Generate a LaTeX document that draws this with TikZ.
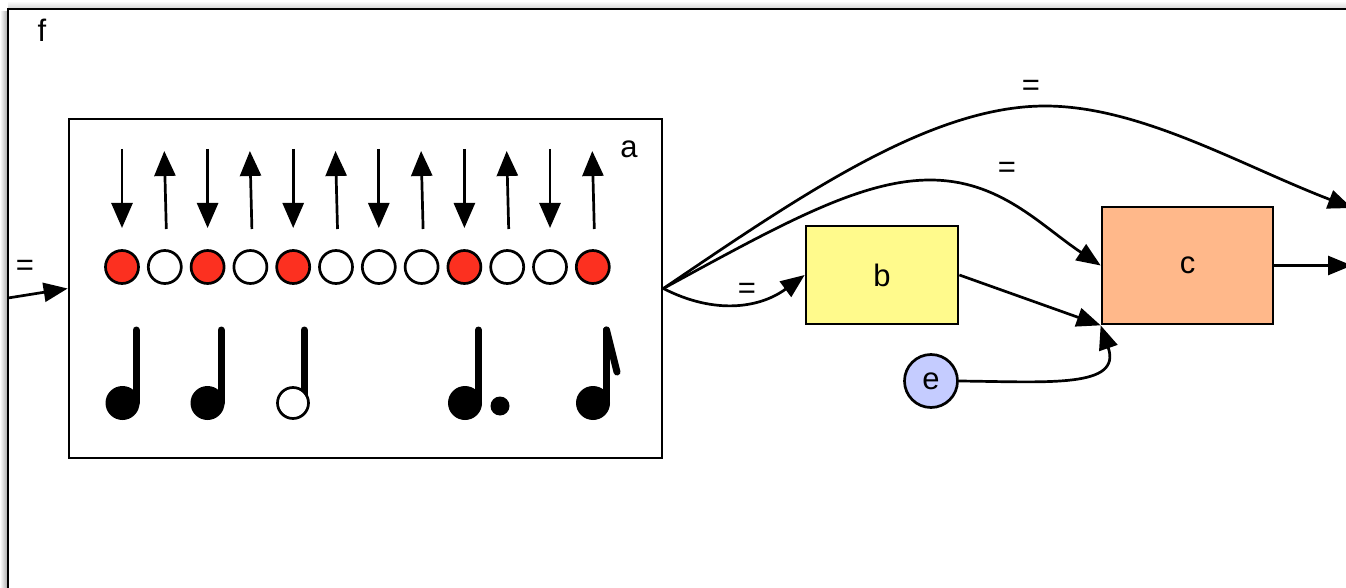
\documentclass[tikz,border=0pt]{standalone}
\usepackage{fontspec}
\setmainfont{Liberation Sans}
\usetikzlibrary{arrows.meta,shapes.geometric}
\definecolor{notered}{RGB}{252,48,32}
\definecolor{byellow}{RGB}{255,250,140}
\definecolor{corange}{RGB}{255,184,138}
\definecolor{eblue}{RGB}{197,204,255}
\begin{document}
\begin{tikzpicture}[x=1pt,y=-1pt,
  lw/.style={line width=2.7pt},
  conn/.style={line width=2.7pt, -{Triangle[length=24pt,width=19pt]}},
  beat/.style={line width=2.7pt, -{Triangle[length=25pt,width=21pt]}},
  stem/.style={line width=7pt, line cap=round},
  txt/.style={font=\fontsize{31}{33}\selectfont, inner sep=0pt},
  pulse/.style={circle, draw, line width=2.7pt, minimum size=33pt, inner sep=0pt},
  box/.style={draw, line width=2.7pt, inner sep=0pt, font=\fontsize{31}{33}\selectfont}]
\useasboundingbox (0,0) rectangle (1346,588);
% frame f with shadow
\shade[left color=white, right color=gray!70] (0,12) rectangle (8,588);
\shade[top color=white, bottom color=gray!35] (8,1) rectangle (1346,9);
\draw[lw,fill=white] (8,9) rectangle (1360,600);
\node[txt] (flabel) at (42,30) {f};
% box a
\node[box, minimum width=593pt, minimum height=339pt] (a) at (365.5,288.5) {};
\node[txt] (alabel) at (629,149) {a};
% pulses
\foreach \i/\col in {0/notered,1/white,2/notered,3/white,4/notered,5/white,6/white,7/white,8/notered,9/white,10/white,11/notered}{
  \pgfmathsetmacro{\xx}{122+42.8*\i}
  \node[pulse, fill=\col] (p\i) at (\xx,267) {};
}
\foreach \i in {0,2,4,6,8,10}{
  \pgfmathsetmacro{\xx}{122+42.8*\i}
  \draw[beat] (\xx,149) -- (\xx,228);
}
\foreach \i in {1,3,5,7,9,11}{
  \pgfmathsetmacro{\xx}{122+42.8*\i}
  \draw[beat] (\xx+1.5,229) -- (\xx-0.5,151);
}
% notes
\fill (122.5,403) circle[radius=17];
\draw[stem] (136,330) -- (136,403);
\fill (207.5,403) circle[radius=17];
\draw[stem] (221,330) -- (221,403);
\draw[stem] (304,330) -- (304,398);
\draw[lw,fill=white] (293,403) circle[radius=15.5];
\fill (465,403) circle[radius=17];
\draw[stem] (478.5,330) -- (478.5,403);
\fill (500,406) circle[radius=9.5];
\fill (593,403) circle[radius=17];
\draw[stem] (606.5,330) -- (606.5,403);
\draw[stem] (606.5,330) -- (617,372);
% nodes b, c, e
\node[box, fill=byellow, minimum width=152pt, minimum height=98pt] (b) at (882,275) {b};
\node[box, fill=corange, minimum width=171pt, minimum height=117pt] (c) at (1187.5,265.5) {c};
\node[box, circle, fill=eblue, minimum size=53pt] (e) at (931,381) {e};
% connectors
\coordinate (fin) at (8,298);
\coordinate (out4) at (1352,208);
\coordinate (out7) at (1352,265.5);
\draw[conn] (fin) -- (a.west);
\draw[conn] (a.east) .. controls (715,315) and (760,308) .. (b.west);
\draw[conn] (a.east) .. controls (780,225) and (860,180) .. (930,180) .. controls (1000,180) and (1040,225) .. (c.west);
\draw[conn] (a.east) .. controls (800,196) and (930,106) .. (1045,106) .. controls (1140,106) and (1240,165) .. (out4);
\draw[conn] (b.east) -- (c.south west);
\draw[conn] (e.east) .. controls (1050,382) and (1122,388) .. (c.south west);
\draw[conn] (c.east) -- (out7);
% labels
\node[txt] (eq0) at (25,268) {=};
\node[txt] (eq2) at (747,291) {=};
\node[txt] (eq3) at (1007,170) {=};
\node[txt] (eq4) at (1031,88) {=};
\end{tikzpicture}
\end{document}
